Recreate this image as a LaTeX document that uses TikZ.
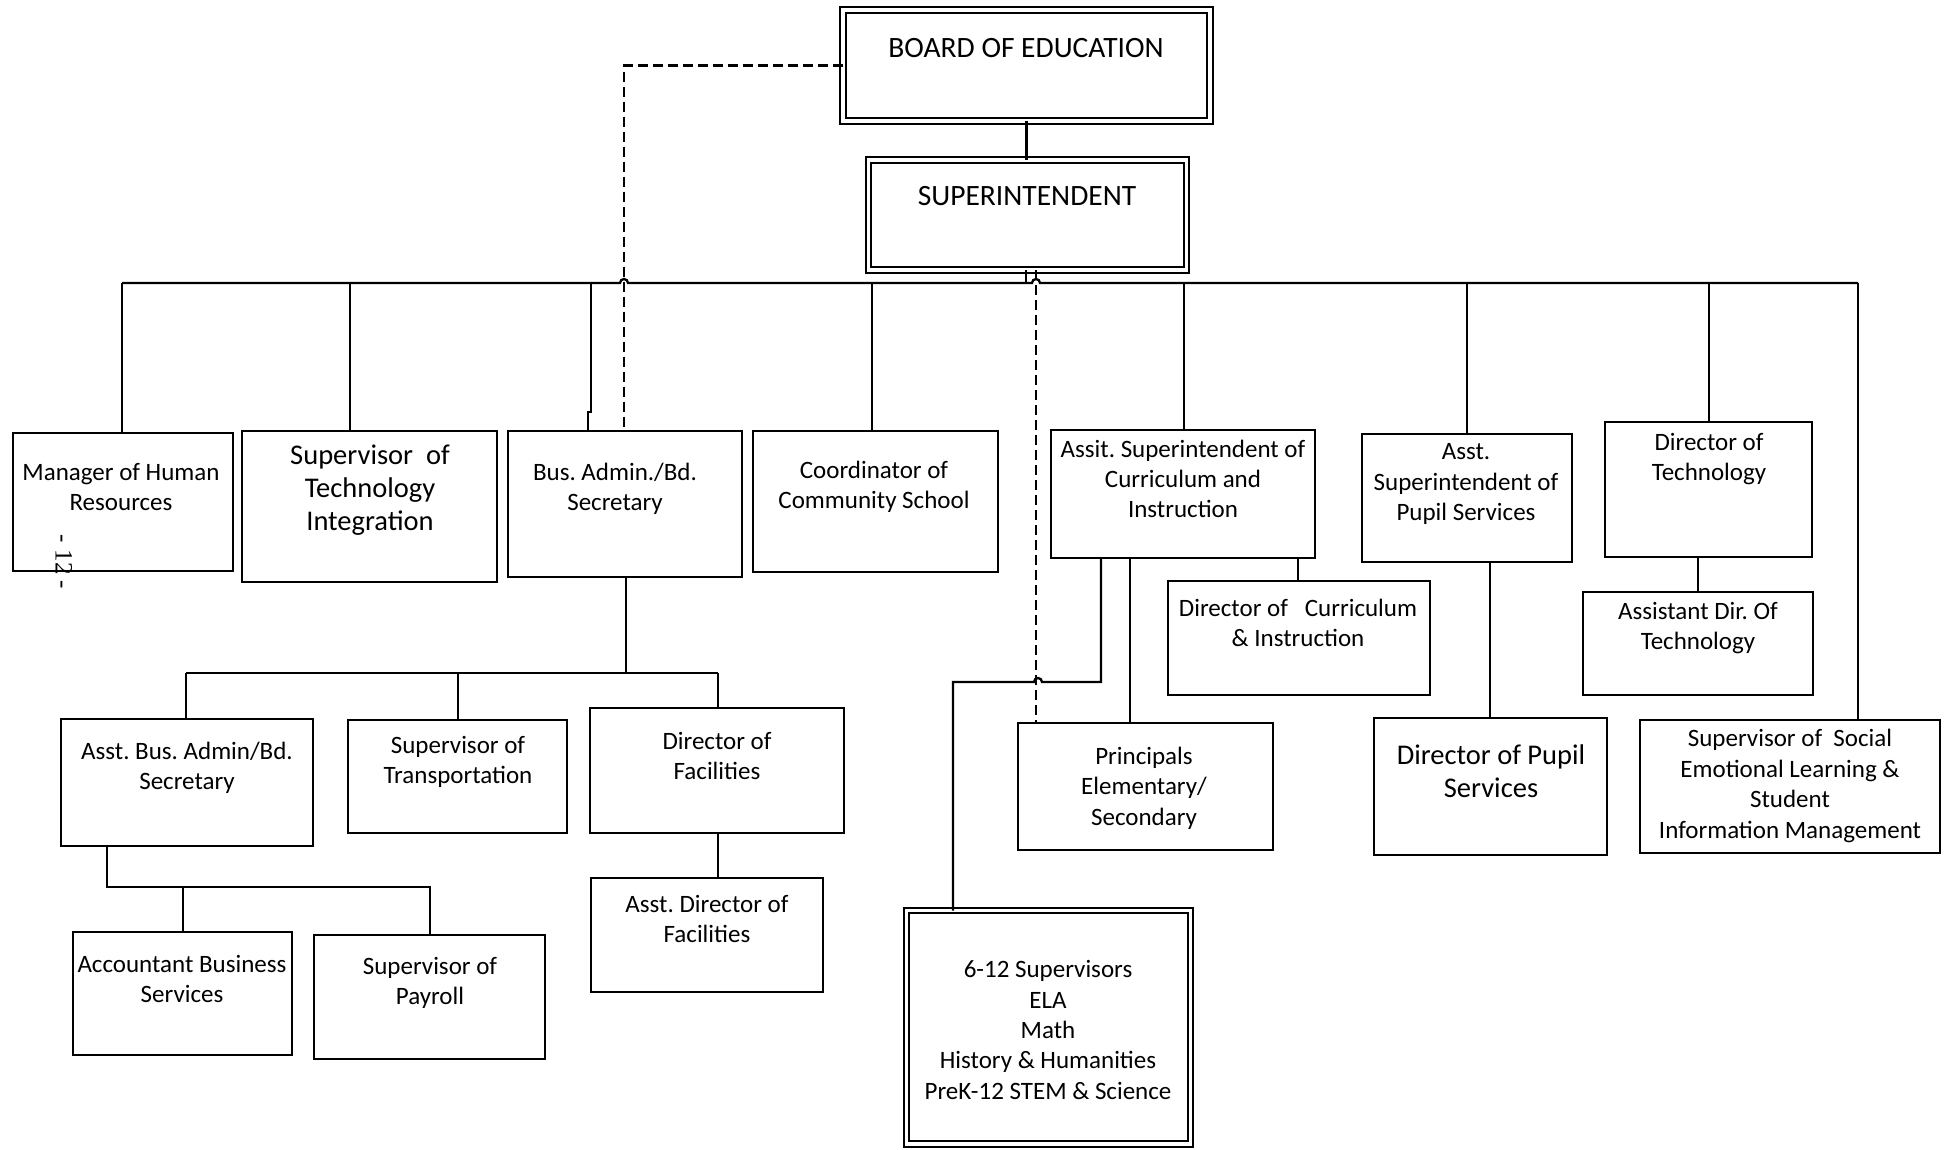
\documentclass[tikz,border=0pt]{standalone}
\usepackage{fontspec}
\setmainfont{Carlito}
\newfontfamily\pgnumfont{Liberation Serif}
\frenchspacing
\newcommand\obox[6][box]{\node[#1, minimum width={#5-#3}, minimum height={#6-#4}] (#2) at ({(#3+#5)/2},{(#4+#6)/2}) {};}
\begin{document}
\begin{tikzpicture}[x=1pt,y=-1pt,
  box/.style={draw, line width=2.7pt, inner sep=0pt, outer sep=0pt},
  dbox/.style={draw, line width=2.2pt, double, double distance=3.2pt, inner sep=0pt, outer sep=0pt},
  txt/.style={align=center, font=\fontsize{25}{30.4}\selectfont, inner sep=0pt},
  bigtxt/.style={align=center, font=\fontsize{28.5}{33}\selectfont, inner sep=0pt},
  captxt/.style={align=center, font=\fontsize{29.5}{34}\selectfont, inner sep=0pt},
  conn/.style={line width=2.3pt},
  dconn/.style={line width=2.4pt, dash pattern=on 10pt off 5pt}]
\useasboundingbox[fill=white] (0,0) rectangle (1949,1149);

% ---------- boxes ----------
\obox[dbox]{board}{843}{10}{1210}{121}
\obox[dbox]{sup}{868.5}{160}{1186.5}{270}
\obox{hr}{13}{433}{233}{571}
\obox{sti}{242}{431}{497}{582}
\obox{bus}{508}{431}{742}{577}
\obox{coord}{753}{431}{998}{572}
\obox{ascur}{1051}{430}{1315}{558}
\obox{aspup}{1362}{434}{1572}{562}
\obox{dtech}{1605}{422}{1812}{557}
\obox{dcur}{1168}{581}{1430}{695}
\obox{adtech}{1583}{592}{1813}{695}
\obox{prin}{1018}{723}{1273}{850}
\obox{dpup}{1374}{718}{1607}{855}
\obox{sel}{1640}{720}{1940}{853}
\obox[dbox]{sgrp}{906.5}{910.5}{1190.5}{1144}
\obox{abus}{61}{719}{313}{846}
\obox{strans}{348}{720}{567}{833}
\obox{dfac}{590}{708}{844}{833}
\obox{adfac}{591}{878}{823}{992}
\obox{acct}{73}{932}{292}{1055}
\obox{pay}{314}{935}{545}{1059}

% ---------- texts ----------
\node[captxt] (board-t) at (1026,48) {BOARD OF EDUCATION};
\node[captxt] (sup-t) at (1027,196) {SUPERINTENDENT};
\node[txt] (hr-t) at (121,487) {Manager of Human\\Resources};
\node[bigtxt] (sti-t) at (370,490) {Supervisor~ of\\Technology\\Integration};
\node[txt] (bus-t) at (615,489) {Bus. Admin./Bd.\\Secretary};
\node[txt] (coord-t) at (874,487) {Coordinator of\\Community School};
\node[txt] (ascur-t) at (1183,479) {Assit. Superintendent of\\Curriculum and\\Instruction};
\node[txt] (aspup-t) at (1466,484) {Asst.\\Superintendent of\\Pupil Services};
\node[txt] (dtech-t) at (1709,459) {Director of\\Technology};
\node[txt] (dcur-t) at (1298,623) {Director of~~ Curriculum\\\& Instruction};
\node[txt] (adtech-t) at (1698,628) {Assistant Dir. Of\\Technology};
\node[txt] (abus-t) at (187,768) {Asst. Bus. Admin/Bd.\\Secretary};
\node[txt] (strans-t) at (458,762) {Supervisor of\\Transportation};
\node[txt] (dfac-t) at (717,756) {Director of\\Facilities};
\node[txt] (prin-t) at (1144,788) {Principals\\Elementary/\\Secondary};
\node[bigtxt] (dpup-t) at (1491,771) {Director of Pupil\\Services};
\node[txt] (sel-t) at (1790,786) {Supervisor of~ Social\\Emotional Learning \&\\Student\\Information Management};
\node[txt] (adfac-t) at (707,919) {Asst. Director of\\Facilities};
\node[txt] (acct-t) at (182,979) {Accountant Business\\Services};
\node[txt] (pay-t) at (430,983) {Supervisor of\\Payroll};
\node[txt] (sgrp-t) at (1048,1030) {6-12 Supervisors\\ELA\\Math\\History \& Humanities\\PreK-12 STEM \& Science};
\node[inner sep=0pt, rotate=-90, font=\pgnumfont\fontsize{25}{28}\selectfont] (pgno) at (64,562) {- 12 -};

% ---------- main bus ----------
\coordinate (busL) at (122,283);
\coordinate (busR) at (1858,283);
\draw[conn] (busL) -- (620,283) arc[start angle=180, end angle=0, radius=4pt]
  -- (1032,283) arc[start angle=180, end angle=0, radius=4pt] -- (busR);
\draw[conn] (board.south) -- (board.south |- sup.north);
\draw[conn] (sup.south -| 1026,0) -- (1026,283);

% drops from bus
\draw[conn] (busL) -- (busL |- hr.north);
\draw[conn] (350,283) -- (350,0 |- sti.north);
\draw[conn] (591,283) -- (591,412) -- (588,412) -- (588,0 |- bus.north);
\draw[conn] (872,283) -- (872,0 |- coord.north);
\draw[conn] (1184,283) -- (1184,0 |- ascur.north);
\draw[conn] (1467,283) -- (1467,0 |- aspup.north);
\draw[conn] (1709,283) -- (1709,0 |- dtech.north);
\draw[conn] (busR) -- (busR |- sel.north);

% dashed lines
\draw[dconn] (board.west) -| (bus.north -| 624,0);
\draw[dconn] (sup.south -| 1036,0) -- (prin.north -| 1036,0);

% business admin branch
\coordinate (bj) at (626,673);
\draw[conn] (bus.south -| bj) -- (bj);
\draw[conn] (186,673) -- (718,673);
\draw[conn] (186,673) -- (186,0 |- abus.north);
\draw[conn] (458,673) -- (458,0 |- strans.north);
\draw[conn] (718,673) -- (718,0 |- dfac.north);
\draw[conn] (dfac.south -| 718,0) -- (adfac.north -| 718,0);
\draw[conn] (abus.south -| 107,0) -- (107,887) -- (430,887) -- (pay.north -| 430,0);
\draw[conn] (183,887) -- (acct.north -| 183,0);

% curriculum branch
\draw[conn] (ascur.south -| 1101,0) -- (1101,682) -- (1042,682) arc[start angle=0, end angle=180, radius=4pt] -- (953,682) -- (sgrp.north -| 953,0);
\draw[conn] (ascur.south -| 1130,0) -- (prin.north -| 1130,0);
\draw[conn] (ascur.south -| 1298,0) -- (dcur.north -| 1298,0);

% pupil services and technology
\draw[conn] (aspup.south -| 1490,0) -- (dpup.north -| 1490,0);
\draw[conn] (dtech.south -| 1698,0) -- (adtech.north -| 1698,0);
\end{tikzpicture}
\end{document}
